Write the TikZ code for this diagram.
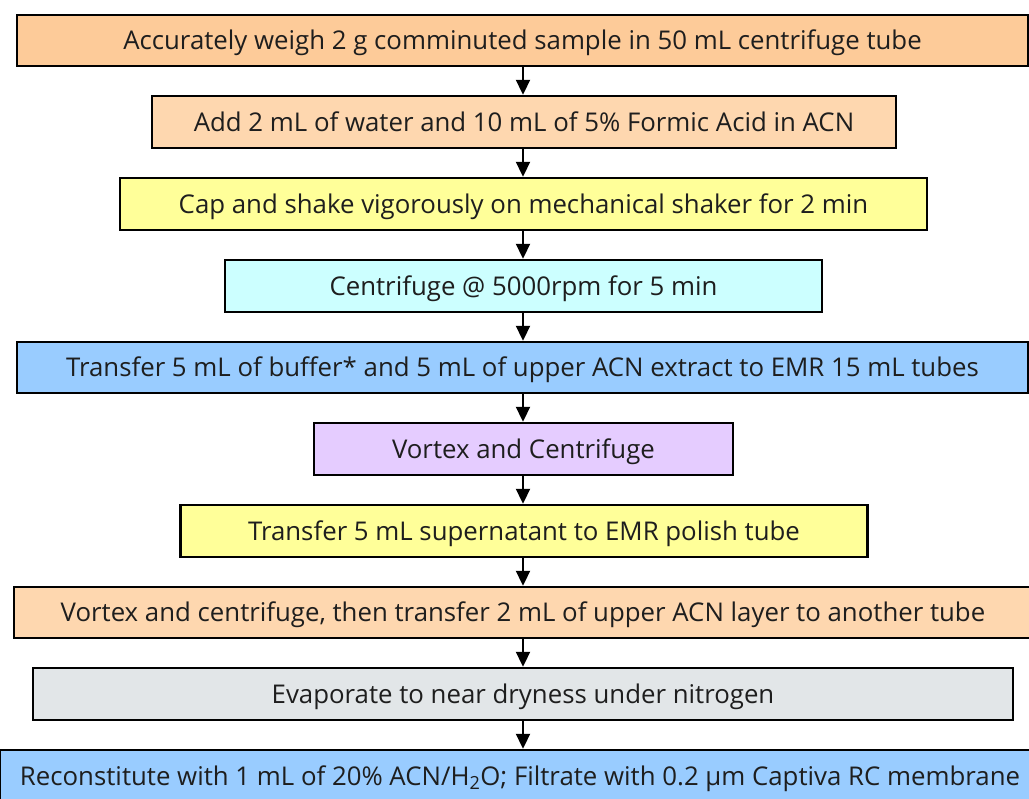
\documentclass[tikz,border=0pt]{standalone}
\usepackage{fontspec}
\setmainfont{Open Sans}
\usetikzlibrary{arrows.meta}
\definecolor{peachA}{HTML}{FDCB99}
\definecolor{peachB}{HTML}{FED7AF}
\definecolor{lemon}{HTML}{FFFF99}
\definecolor{aqua}{HTML}{CCFFFF}
\definecolor{sky}{HTML}{99CCFF}
\definecolor{lilac}{HTML}{E5CCFF}
\definecolor{mist}{HTML}{E2E6E8}
\definecolor{ink}{HTML}{1E1E1E}
\tikzset{
  stepbox/.style={draw=black, line width=2.4pt, inner sep=0pt, text=ink,
    text height=18.5pt, text depth=0pt,
    font=\fontsize{25.8}{30}\selectfont},
  flow/.style={line width=2pt, -{Triangle[width=14pt,length=15pt]}}
}
\begin{document}
\begin{tikzpicture}[x=1pt,y=-1pt]
\clip (0,0) rectangle (1029,799);
\fill[white] (0,0) rectangle (1029,799);
\coordinate (ax) at (523,0);
\node[stepbox, fill=peachA, minimum width=1011pt, minimum height=51pt] (s1) at (522.5,40.5)
  {Accurately weigh 2 g comminuted sample in 50 mL centrifuge tube};
\node[stepbox, fill=peachB, minimum width=744pt, minimum height=52pt] (s2) at (524,122)
  {Add 2 mL of water and 10 mL of 5\% Formic Acid in ACN};
\node[stepbox, fill=lemon, minimum width=807pt, minimum height=52pt] (s3) at (523.5,204)
  {Cap and shake vigorously on mechanical shaker for 2 min};
\node[stepbox, fill=aqua, minimum width=597pt, minimum height=52pt] (s4) at (523.5,286)
  {Centrifuge @ 5000rpm for 5 min};
\node[stepbox, fill=sky, minimum width=1011pt, minimum height=51pt] (s5) at (522.5,367.5)
  {Transfer 5 mL of buffer* and 5 mL of upper ACN extract to EMR 15 mL tubes};
\node[stepbox, fill=lilac, minimum width=419pt, minimum height=52pt] (s6) at (523.5,449)
  {Vortex and Centrifuge};
\node[stepbox, fill=lemon, minimum width=687pt, minimum height=52pt] (s7) at (524,531)
  {Transfer 5 mL supernatant to EMR polish tube};
\node[stepbox, fill=peachB, minimum width=1018pt, minimum height=51pt] (s8) at (523,612.5)
  {Vortex and centrifuge, then transfer 2 mL of upper ACN layer to another tube};
\node[stepbox, fill=mist, minimum width=980pt, minimum height=52pt] (s9) at (523,694)
  {Evaporate to near dryness under nitrogen};
\node[stepbox, fill=sky, minimum width=1040pt, minimum height=52pt] (s10) at (520,776)
  {Reconstitute with 1 mL of 20\% ACN/H\textsubscript{2}O; Filtrate with 0.2 µm Captiva RC membrane};
\foreach \a/\b in {s1/s2,s2/s3,s3/s4,s4/s5,s5/s6,s6/s7,s7/s8,s8/s9,s9/s10}
  \draw[flow] (\a.south -| ax) -- (\b.north -| ax);
\end{tikzpicture}
\end{document}
